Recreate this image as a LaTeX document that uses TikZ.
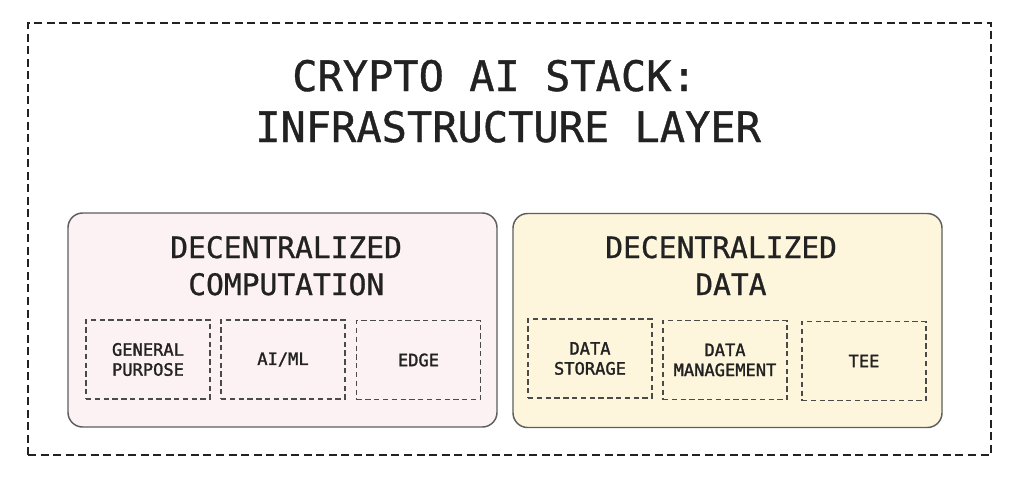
\documentclass[tikz,border=0pt]{standalone}
\usepackage{fontspec}
\setmonofont{DejaVu Sans Mono}
\newfontfamily\titlefont[FakeBold=0.9]{DejaVu Sans Mono}
\newfontfamily\subfont[FakeBold=1.6]{DejaVu Sans Mono}
\usetikzlibrary{positioning}
\definecolor{pinkfill}{HTML}{FCF2F3}
\definecolor{yellowfill}{HTML}{FDF6DD}
\definecolor{boxline}{HTML}{5E5E5E}
\definecolor{dashline}{HTML}{4A4A4A}
\definecolor{ink}{HTML}{222222}
\tikzset{
  outerbox/.style={draw=ink, line width=2.2pt, dash pattern=on 6pt off 3.4pt, minimum width=722.25pt, minimum height=324pt, inner sep=0pt},
  bigbox/.style={draw=boxline, line width=1.1pt, rounded corners=11pt, minimum width=321.75pt, minimum height=160.5pt, inner sep=0pt},
  subbox/.style={draw=dashline, line width=1.1pt, dash pattern=on 4pt off 2.6pt, minimum width=93pt, minimum height=59.25pt, inner sep=0pt, align=center, text=ink, font=\subfont\fontsize{12.8}{15}\selectfont},
  titletext/.style={anchor=base west, inner sep=0pt, text=ink, font=\titlefont\fontsize{31.5}{38}\selectfont},
  headtext/.style={anchor=base west, inner sep=0pt, text=ink, font=\titlefont\fontsize{22.2}{27}\selectfont}
}
\begin{document}
\begin{tikzpicture}[x=0.75pt,y=-0.75pt]
\useasboundingbox (0,0) rectangle (1024,480);
\node[outerbox] (outer) at (509.5,239) {};
\node[titletext] (t1) at (292,91) {CRYPTO AI STACK:};
\node[titletext] (t2) at (255,142) {INFRASTRUCTURE LAYER};
% left box
\node[bigbox, fill=pinkfill] (comp) at (282.5,320) {};
\node[headtext] (ch1) at (170,258) {DECENTRALIZED};
\node[headtext] (ch2) at (188,295) {COMPUTATION};
\node[subbox] (gp) at (148,359.5) {GENERAL\\PURPOSE};
\node[subbox] (aiml) at (283,359.5) {AI/ML};
\node[subbox] (edge) at (418.5,360) {EDGE};
% right box
\node[bigbox, fill=yellowfill] (data) at (727.5,320.5) {};
\node[headtext] (dh1) at (605,258) {DECENTRALIZED};
\node[headtext] (dh2) at (695,295) {DATA};
\node[subbox] (ds) at (590,358.5) {DATA\\STORAGE};
\node[subbox] (dm) at (725,360) {DATA\\MANAGEMENT};
\node[subbox] (tee) at (864,361) {TEE};
\end{tikzpicture}
\end{document}
